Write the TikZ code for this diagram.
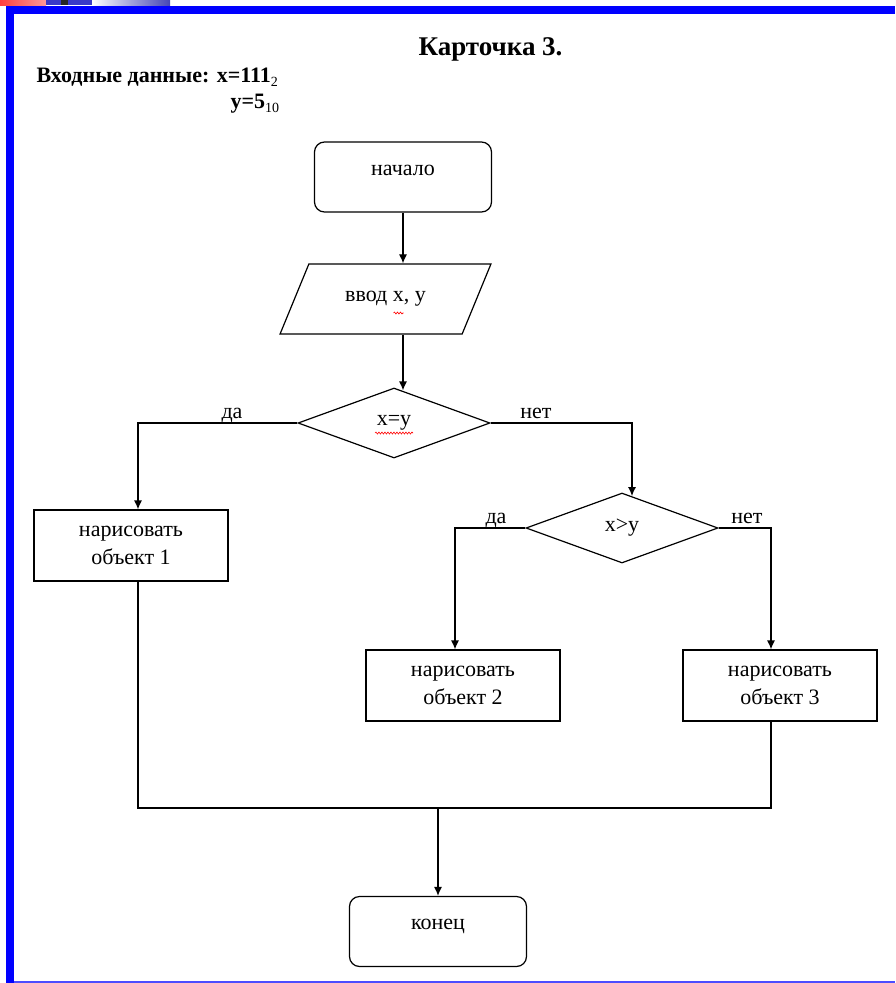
\documentclass[tikz,border=0pt]{standalone}
\usepackage{fontspec}
\setmainfont{Liberation Serif}
\usetikzlibrary{shapes.geometric,arrows.meta,calc,decorations.pathmorphing}

\definecolor{tabblue}{RGB}{58,58,200}
\definecolor{fadeblue}{RGB}{70,70,182}
\newcommand{\lowidx}[1]{\raisebox{-4pt}{\fontsize{14}{14}\selectfont\mdseries #1}}

\begin{document}
\begin{tikzpicture}[x=1pt,y=-1pt,
  every node/.style={font=\fontsize{22}{28}\selectfont},
  term/.style={draw,rounded corners=10pt,minimum width=177pt,minimum height=70pt,
    line width=1.2pt,text height=10pt,text depth=14pt},
  proc/.style={draw,minimum width=194pt,minimum height=71pt,align=center,line width=1.2pt},
  cond/.style={draw,diamond,minimum width=192pt,minimum height=70pt,inner sep=0pt,line width=1.2pt},
  io/.style={draw,trapezium,trapezium left angle=53,trapezium right angle=127,
    trapezium stretches=true,minimum width=211pt,minimum height=70pt,line width=1.2pt},
  arr/.style={line width=1.2pt,-{Latex[length=9pt,width=8pt]}},
  ln/.style={line width=1.2pt},
  lbl/.style={anchor=base},
  wavy/.style={red,line width=0.6pt,decorate,decoration={snake,amplitude=1pt,segment length=3pt}}
]
\useasboundingbox (0,0) rectangle (895,983);

% Рамка слайда
\shade[left color=red!75,right color=red!40] (0,0) rectangle (46,5);
\fill[tabblue] (46,0) rectangle (61,5);
\fill[black!85] (61,0) rectangle (68,5);
\fill[tabblue] (68,0) rectangle (92,5);
\shade[left color=white,right color=fadeblue] (92,0) rectangle (170,5);
\fill[blue] (6,6) rectangle (895,14);
\fill[blue] (6,6) rectangle (14,983);
\draw[blue!70,line width=1.5pt] (14,982) -- (895,982);

% Заголовок
\node[anchor=base west,font=\bfseries\fontsize{27}{30}\selectfont] (title) at (415,55)
{Карточка 3.};
\node[anchor=base west,font=\bfseries\fontsize{22}{26}\selectfont] (data) at (33,82)
{Входные данные: x=111\lowidx{2}};
\node[anchor=base west,font=\bfseries\fontsize{22}{26}\selectfont] (datay) at (227,108)
{y=5\lowidx{10}};

% Блоки
\node[term] (start) at (403,177) {начало};
\node[io] (in) at (385.5,299) {ввод x, y};
\node[cond] (c1) at (394,423) {x=y};
\node[proc] (b1) at (131,545.5) {нарисовать\\объект 1};
\node[cond] (c2) at (622,528) {x>y};
\foreach \n/\x/\k in {b2/463/2,b3/780/3}
{
\node[proc] (\n) at (\x,685.5) {нарисовать\\объект \k};
}
\node[term] (end) at (438,931.5) {конец};
\coordinate (j) at (438,808);

% Стрелки
\draw[arr] (start.south) -- (start.south |- in.north);
\draw[arr] (start.south |- in.south) -- ($(start.south |- c1.north)+(0,3)$);
\draw[arr] (c1.west) -| ([xshift=7pt]b1.north);
\draw[arr] (c1.east) -| ($(c2.north)+(10,3.7)$);
\draw[arr] (c2.west) -| ([xshift=-8pt]b2.north);
\draw[arr] (c2.east) -| ([xshift=-9pt]b3.north);
\draw[ln] ([xshift=7pt]b1.south) |- (j) -| ([xshift=-9pt]b3.south);
\draw[arr] (j) -- (end.north);

% Подписи
\node[lbl] at (232,418) {да};
\node[lbl] at (536,418) {нет};
\node[lbl] at (496,523) {да};
\node[lbl] at (747,523) {нет};

% Орфография
\draw[wavy] ($(in)+(8,14)$) -- ($(in)+(18,14)$);
\draw[wavy] ($(c1)+(-19,10)$) -- ($(c1)+(19,10)$);

\end{tikzpicture}
\end{document}
